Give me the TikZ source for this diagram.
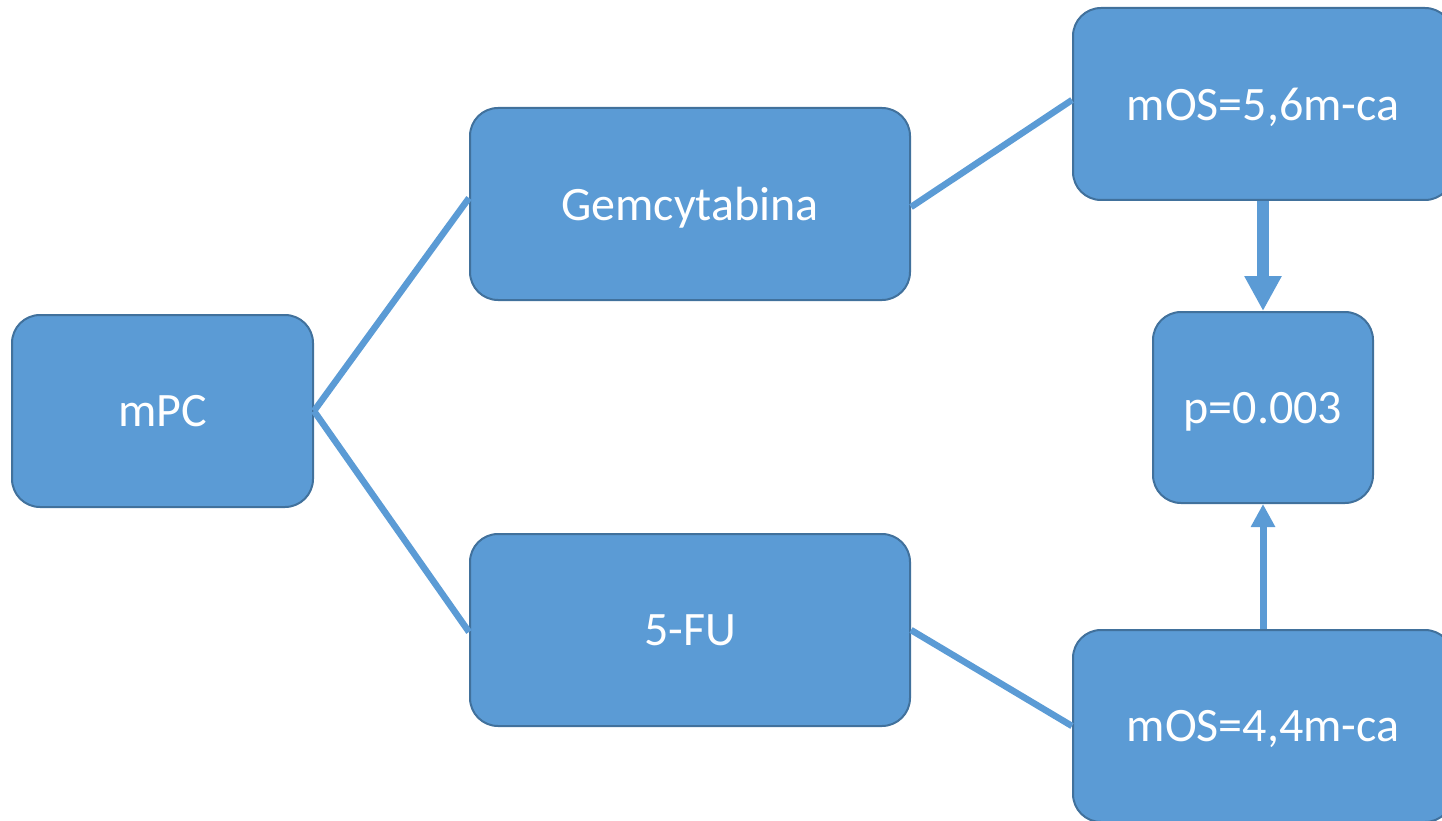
\documentclass[tikz,border=0pt]{standalone}
\usepackage{fontspec}
\setmainfont{Carlito}
\usetikzlibrary{arrows.meta}
\definecolor{boxfill}{HTML}{5B9BD5}
\definecolor{boxline}{HTML}{41719C}
\begin{document}
\begin{tikzpicture}[x=1pt,y=-1pt,
  box/.style={draw=boxline, line width=2pt, fill=boxfill, rounded corners=28pt,
    text=white, font=\fontsize{48}{56}\selectfont, inner sep=0pt, text depth=0pt},
  link/.style={draw=boxfill, line width=6.5pt}]
\useasboundingbox (0,0) rectangle (1442,821);
\clip (0,0) rectangle (1442,821);
\node[box, minimum width=301pt, minimum height=192pt] (mpc) at (162.5,411) {mPC};
\node[box, minimum width=440pt, minimum height=192pt] (gem) at (690,204) {Gemcytabina};
\node[box, minimum width=440pt, minimum height=192pt] (fu) at (690,630) {5-FU};
\node[box, minimum width=380pt, minimum height=192pt] (mos1) at (1263,104) {mOS=5,6m-ca};
\node[box, minimum width=220pt, minimum height=191pt] (p) at (1263,407.5) {p=0.003};
\node[box, minimum width=380pt, minimum height=192pt] (mos2) at (1263,726) {mOS=4,4m-ca};
\draw[link] (mpc.east) -- ([yshift=6pt]gem.west);
\draw[link] (mpc.east) -- ([yshift=-2pt]fu.west);
\draw[link] ([yshift=-3pt]gem.east) -- ([yshift=4pt]mos1.west);
\draw[link] (fu.east) -- (mos2.west);
\draw[draw=boxfill, line width=12pt, -{Triangle[length=35pt,width=35pt]}, color=boxfill] (mos1.south) -- (p.north);
\draw[draw=boxfill, line width=7pt, -{Triangle[length=23pt,width=23pt]}, color=boxfill] (mos2.north) -- (p.south);
\end{tikzpicture}
\end{document}
